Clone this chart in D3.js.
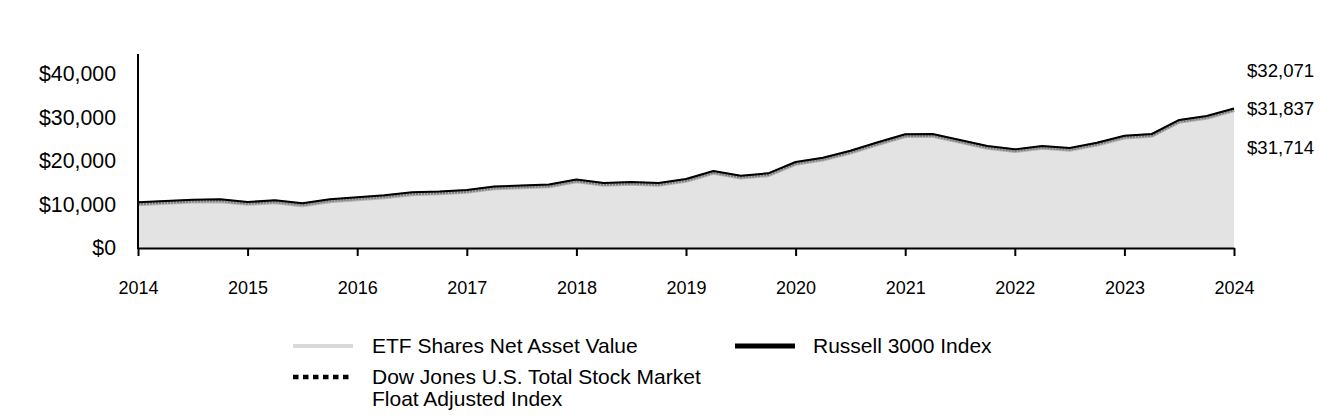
<!DOCTYPE html>
<html>
<head>
<meta charset="utf-8">
<script src="https://cdn.jsdelivr.net/npm/d3@7"></script>
<style>
  html, body { margin: 0; padding: 0; background: #fff; }
  svg { display: block; font-family: "Liberation Sans", Arial, sans-serif; }
</style>
</head>
<body>
<svg id="chart" width="1344" height="420"></svg>
<script>
// ---- data (quarterly points, 2014 through 2024) ----
const yearLabels = ["2014","2015","2016","2017","2018","2019","2020","2021","2022","2023","2024"];
const yTicks = [0, 10000, 20000, 30000, 40000];

const russell = [10500, 10800, 11100, 11190, 10570, 10960, 10270, 11190, 11650, 12110, 12800,
  12990, 13330, 14140, 14370, 14600, 15750, 14940, 15170, 14940, 15860, 17700, 16620, 17170,
  19770, 20760, 22370, 24300, 26140, 26210, 24830, 23450, 22690, 23450, 22990, 24210,
  25820, 26210, 29430, 30340, 32071];
const dowJones = [10250, 10550, 10850, 10940, 10320, 10710, 10020, 10940, 11400, 11860, 12550,
  12740, 13080, 13890, 14120, 14350, 15500, 14690, 14920, 14690, 15610, 17450, 16370, 16920,
  19520, 20510, 22120, 24050, 25890, 25960, 24580, 23200, 22440, 23200, 22740, 23960,
  25570, 25960, 29180, 30090, 31837];
const etfNav = [10080, 10380, 10680, 10770, 10150, 10540, 9850, 10770, 11230, 11690, 12380,
  12570, 12910, 13720, 13950, 14180, 15330, 14520, 14750, 14520, 15440, 17280, 16200, 16750,
  19350, 20340, 21950, 23880, 25720, 25790, 24410, 23030, 22270, 23030, 22570, 23790,
  25400, 25790, 29010, 29920, 31714];
const endLabels = ["$32,071", "$31,837", "$31,714"];
const legendItems = [
  {name: ["ETF Shares Net Asset Value"], kind: "etf"},
  {name: ["Russell 3000 Index"], kind: "russell"},
  {name: ["Dow Jones U.S. Total Stock Market", "Float Adjusted Index"], kind: "dj"}
];

// ---- layout ----
const svg = d3.select("#chart");
const x = d3.scaleLinear().domain([0, 40]).range([138, 1234]);
const y = d3.scaleLinear().domain([0, 40000]).range([248, 74]);
const idx = d3.range(russell.length);

// area under ETF
svg.append("path")
  .datum(idx)
  .attr("fill", "#e3e3e3")
  .attr("d", d3.area().x(i => x(i)).y0(y(0)).y1(i => y(etfNav[i])));

const line = arr => d3.line().x(i => x(i)).y(i => y(arr[i]));

svg.append("path").datum(idx)
  .attr("fill", "none").attr("stroke", "#b3b3b3").attr("stroke-width", 4)
  .attr("stroke-linejoin", "round")
  .attr("d", line(etfNav));
svg.append("path").datum(idx)
  .attr("fill", "none").attr("stroke", "#7d7d7d").attr("stroke-width", 3.5)
  .attr("stroke-dasharray", "2,1")
  .attr("d", line(dowJones));
svg.append("path").datum(idx)
  .attr("fill", "none").attr("stroke", "#000").attr("stroke-width", 2)
  .attr("stroke-linejoin", "round")
  .attr("d", line(russell));

// axes
const xAxis = d3.axisBottom(x)
  .tickValues(d3.range(0, 41, 4))
  .tickFormat((d, i) => yearLabels[i])
  .tickSize(8).tickSizeOuter(0).tickPadding(25);
const gx = svg.append("g").attr("transform", `translate(0,${y(0)})`).call(xAxis);
gx.select(".domain").attr("stroke", "#000").attr("stroke-width", 2);
gx.selectAll(".tick line").attr("stroke", "#000").attr("stroke-width", 2);
gx.selectAll(".tick text").attr("fill", "#000").style("font-size", "18px")
  .style("font-family", "Liberation Sans, Arial, sans-serif");

const yAxis = d3.axisLeft(y)
  .tickValues(yTicks)
  .tickFormat(d => "$" + d3.format(",")(d))
  .tickSize(0).tickPadding(22);
const gy = svg.append("g").attr("transform", `translate(${x(0)},0)`).call(yAxis);
gy.select(".domain").remove();
gy.selectAll(".tick text").attr("fill", "#000").style("font-size", "21.3px")
  .style("font-family", "Liberation Sans, Arial, sans-serif");
svg.append("line")
  .attr("x1", x(0)).attr("x2", x(0))
  .attr("y1", 54).attr("y2", y(0) + 1)
  .attr("stroke", "#000").attr("stroke-width", 2);

// end labels
svg.append("g").selectAll("text").data(endLabels).join("text")
  .attr("x", 1247).attr("y", (d, i) => 77 + i * 38.3)
  .attr("fill", "#000").style("font-size", "18.6px")
  .text(d => d);

// legend
const lg = svg.append("g");
function swatch(g, kind, x0, yy) {
  const l = g.append("line").attr("x1", x0).attr("x2", x0 + 60).attr("y1", yy).attr("y2", yy);
  if (kind === "etf") l.attr("stroke", "#d9d9d9").attr("stroke-width", 4);
  if (kind === "russell") l.attr("stroke", "#000").attr("stroke-width", 5);
  if (kind === "dj") l.attr("x2", x0 + 56).attr("stroke", "#000").attr("stroke-width", 4.5)
    .attr("stroke-dasharray", "5.5,4.5");
}
const legendPos = [
  {sx: 293, tx: 372, y: 346},
  {sx: 735, tx: 813, y: 346},
  {sx: 293, tx: 372, y: 377}
];
legendItems.forEach((it, k) => {
  const p = legendPos[k];
  swatch(lg, it.kind, p.sx, p.y);
  it.name.forEach((t, j) => {
    lg.append("text").attr("x", p.tx).attr("y", p.y + 7 + j * 22)
      .attr("fill", "#000").style("font-size", "21px").text(t);
  });
});
</script>
</body>
</html>
